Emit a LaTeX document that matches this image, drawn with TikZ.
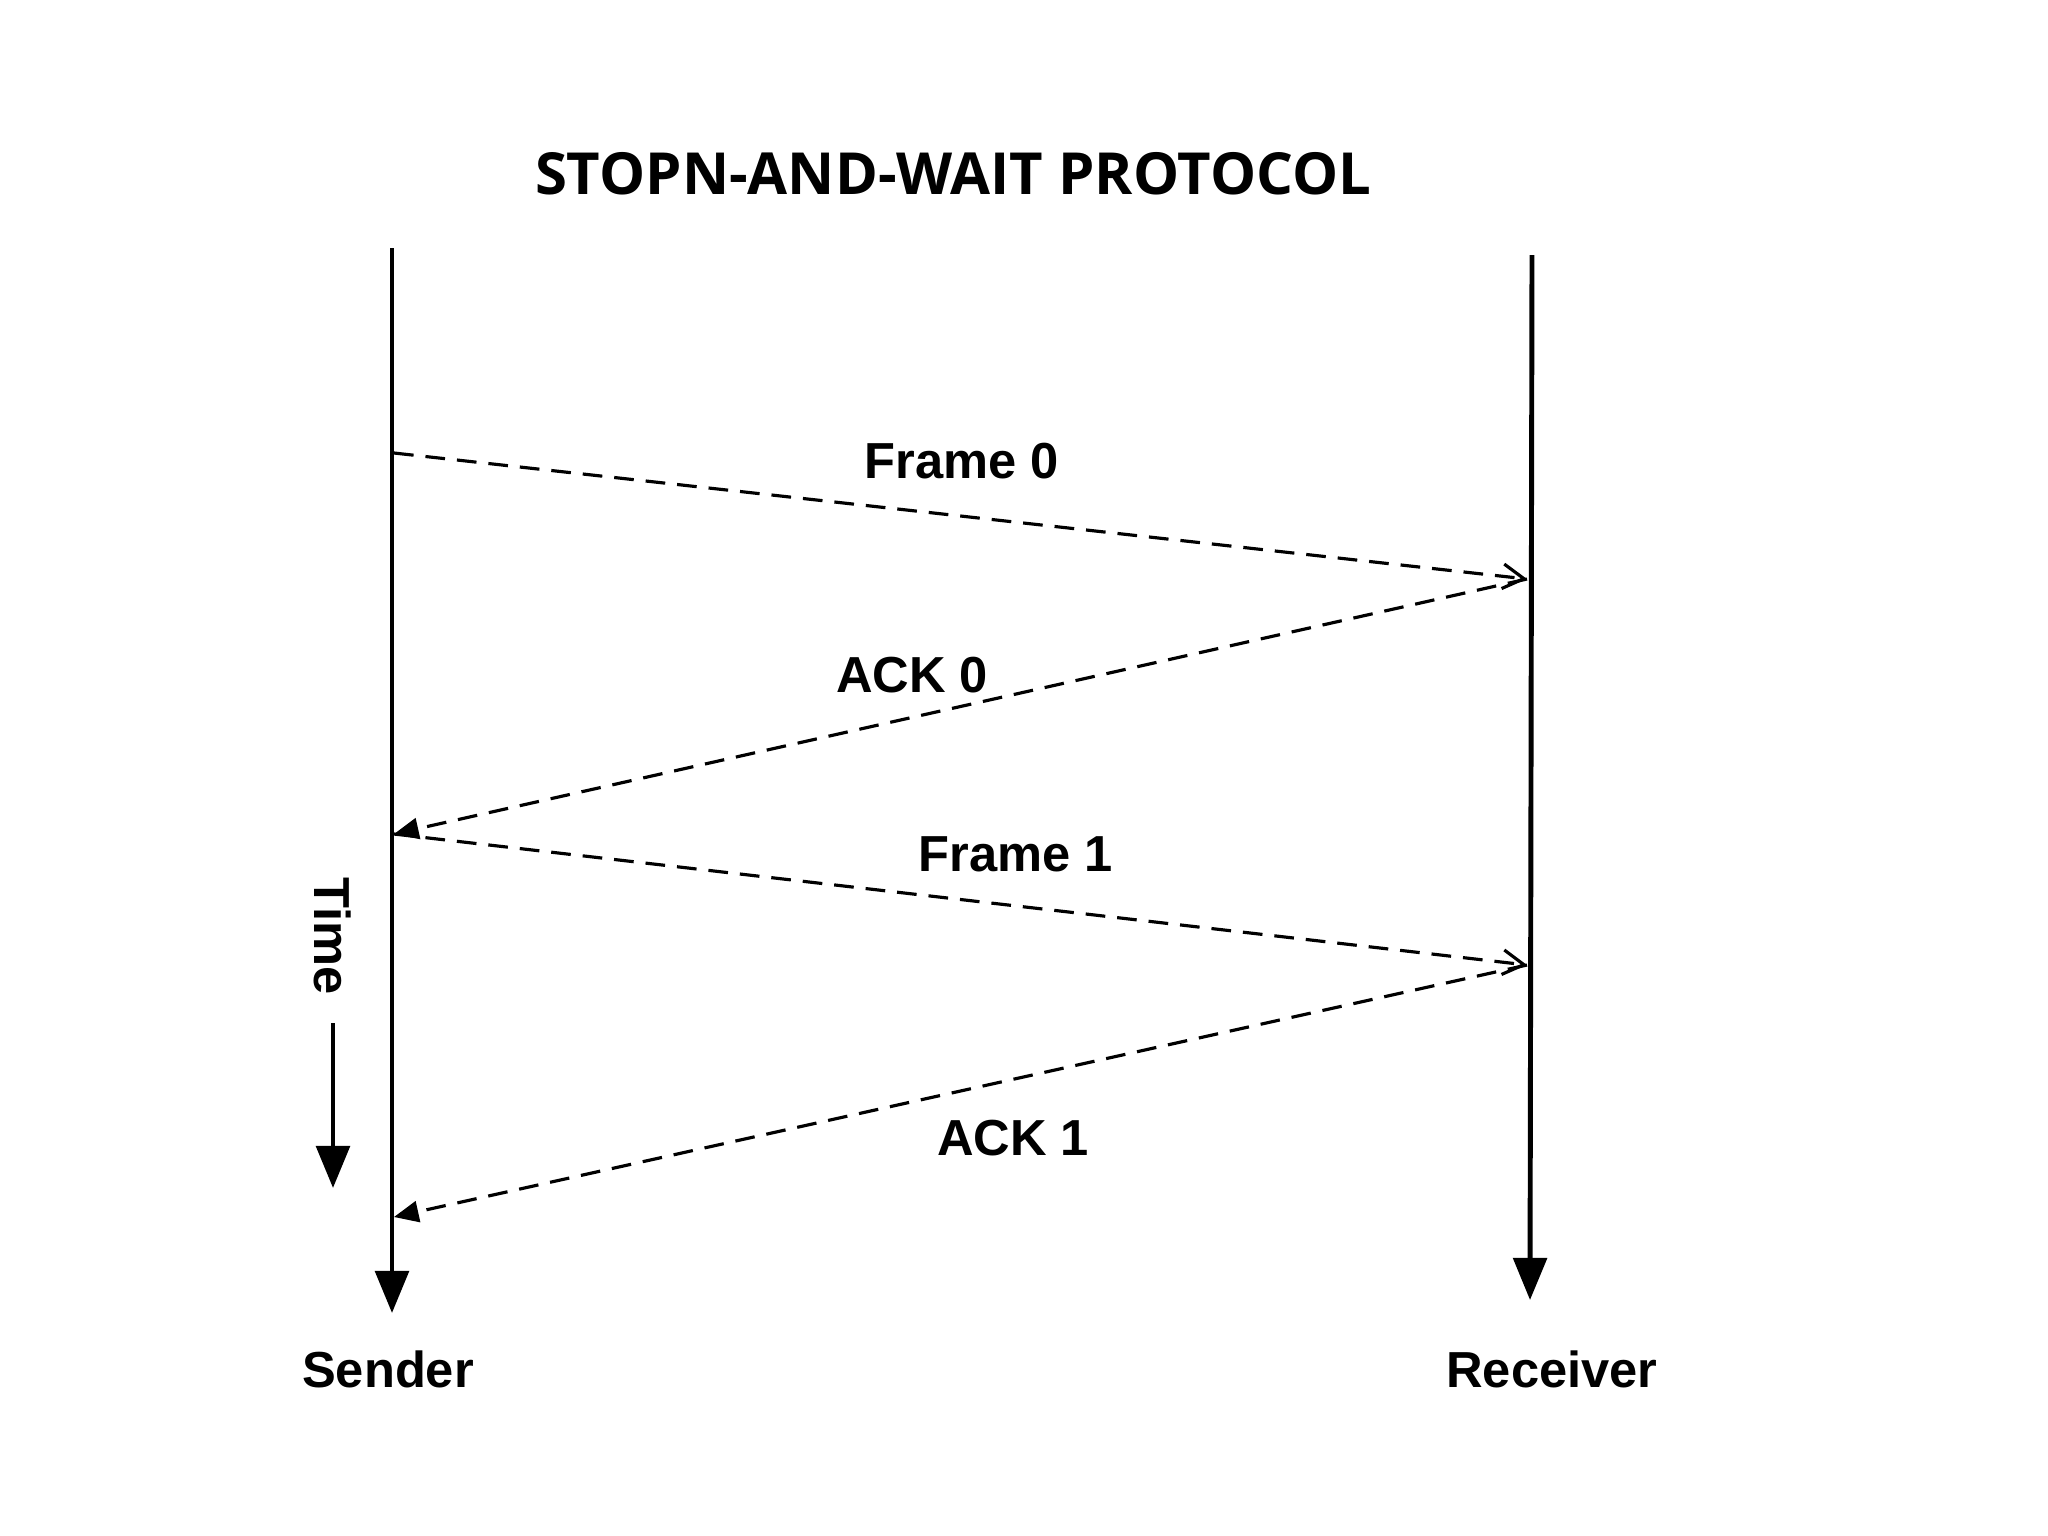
\documentclass[tikz,border=0pt]{standalone}
\usepackage{fontspec}
\setmainfont{Liberation Sans}
\newfontfamily\titlefont{Open Sans}
\usetikzlibrary{arrows.meta,positioning}

\begin{document}
\begin{tikzpicture}[x=0.01cm, y=-0.01cm, >={Triangle[length=12pt,width=9.5pt]},
  lifeline/.style={line width=1.4pt, ->},
  msg/.style={line width=0.9pt, dash pattern=on 5.6pt off 3.4pt},
  lbl/.style={font=\fontsize{14.4}{16}\selectfont\bfseries}]
  \useasboundingbox (0,0) rectangle (2048,1536);

  \node [font=\titlefont\fontsize{16.5}{18}\selectfont\bfseries] (title) at (953,174) {STOPN-AND-WAIT PROTOCOL};

  % lifelines
  \coordinate (stop) at (392,248);
  \coordinate (sbot) at (392,1313);
  \coordinate (rtop) at (1532,255);
  \coordinate (rbot) at (1530,1300);
  \draw [lifeline] (stop) -- (sbot);
  \draw [lifeline] (rtop) -- (rbot);
  \node [lbl] (sender) at (388,1369) {Sender};
  \node [lbl] (receiver) at (1552,1369) {Receiver};

  % events on the lifelines
  \coordinate (s0) at (394,453);
  \coordinate (r0) at (1527,579);
  \coordinate (s1) at (394,834);
  \coordinate (r1) at (1527,965);
  \coordinate (s2) at (394,1217);

  \draw [msg, -{Straight Barb[length=6pt,width=7pt]}] (s0) -- (r0);
  \draw [msg, -{Triangle[length=7pt,width=6pt]}] (r0) -- (s1);
  \draw [msg, -{Straight Barb[length=6pt,width=7pt]}] (s1) -- (r1);
  \draw [msg, -{Triangle[length=7pt,width=6pt]}] (r1) -- (s2);

  \node [lbl] (f0) at (962,461) {Frame 0};
  \node [lbl] (a0) at (912,675) {ACK 0};
  \node [lbl] (f1) at (1016,854) {Frame 1};
  \node [lbl] (a1) at (1013,1138) {ACK 1};

  % time axis
  \node [lbl, rotate=-90] (time) at (333,936) {Time};
  \coordinate (tbot) at (333,1188);
  \draw [line width=1.4pt, ->] (time.east) ++(0,16) -- (tbot);
\end{tikzpicture}
\end{document}
